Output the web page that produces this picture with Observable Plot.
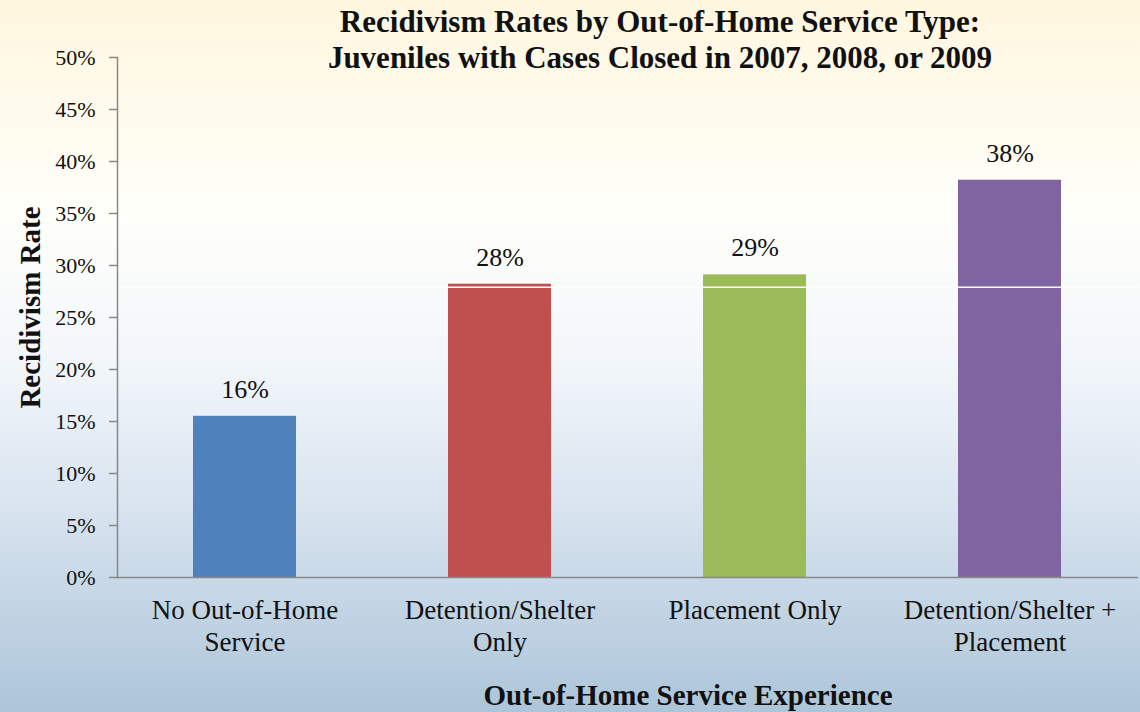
<!DOCTYPE html>
<html>
<head>
<meta charset="utf-8">
<script src="https://cdn.jsdelivr.net/npm/d3@7"></script>
<script src="https://cdn.jsdelivr.net/npm/@observablehq/plot@0.6"></script>
<style>
  html, body { margin: 0; padding: 0; }
  body {
    width: 1140px; height: 712px; overflow: hidden; position: relative;
    background: linear-gradient(to bottom, #FFF6DE 0%, #FFFFFA 30%, #F3F7FB 50%, #DAE5F0 70%, #ADC5D9 100%);
    font-family: "Liberation Serif", "DejaVu Serif", serif;
  }
  #title {
    position: absolute; left: 260px; width: 800px; top: 4px;
    text-align: center; font-weight: bold; font-size: 31px; line-height: 36px; color: #111;
  }
  #chart { position: absolute; left: 0; top: 0; }
</style>
</head>
<body>
<div id="chart"></div>
<div id="title">Recidivism Rates by Out-of-Home Service Type:<br>Juveniles with Cases Closed in 2007, 2008, or 2009</div>
<script>
const categories = ["No Out-of-Home Service", "Detention/Shelter Only", "Placement Only", "Detention/Shelter + Placement"];
const tickLabels = ["No Out-of-Home\nService", "Detention/Shelter\nOnly", "Placement Only", "Detention/Shelter +\nPlacement"];
const values = [15.5, 28.2, 29.1, 38.2];
const valueLabels = ["16%", "28%", "29%", "38%"];
const colors = ["#4F81BD", "#C0504D", "#9BBB59", "#8064A2"];
const artifactLine = [27.9];

const data = categories.map((c, i) => ({category: c, value: values[i], label: valueLabels[i], color: colors[i]}));
const labelOf = new Map(categories.map((c, i) => [c, tickLabels[i]]));

const chart = Plot.plot({
  width: 1140,
  height: 712,
  marginLeft: 117,
  marginRight: 2,
  marginTop: 57,
  marginBottom: 135,
  style: {background: "transparent", fontFamily: "'Liberation Serif', 'DejaVu Serif', serif", color: "#111"},
  x: {domain: categories, paddingInner: 0.596, paddingOuter: 0.298, label: null},
  y: {domain: [0, 50], label: null},
  marks: [
    Plot.barY(data, {x: "category", y: "value", fill: "color"}),
    Plot.ruleY(artifactLine, {stroke: "white", strokeWidth: 1.5}),
    Plot.ruleY([0], {stroke: "#888", strokeWidth: 1.5}),
    Plot.frame({anchor: "left", stroke: "#888", strokeWidth: 1.5}),
    Plot.axisY({
      ticks: d3.range(0, 51, 5), tickFormat: d => d + "%", tickSize: 8, tickPadding: 14,
      fontSize: 22, stroke: "#888", strokeWidth: 1.5, label: null
    }),
    Plot.axisX({
      tickSize: 0, tickPadding: 18, fontSize: 27, lineHeight: 1.2,
      tickFormat: d => labelOf.get(d), label: null
    }),
    Plot.text(data, {x: "category", y: "value", text: "label", dy: -27, fontSize: 26, fill: "#111"}),
    Plot.text(["Out-of-Home Service Experience"], {frameAnchor: "bottom", dy: 127, dx: 60, fontSize: 29, fontWeight: "bold", fill: "#111"}),
    Plot.text(["Recidivism Rate"], {frameAnchor: "left", textAnchor: "middle", dx: -87, dy: -10, rotate: -90, fontSize: 29, fontWeight: "bold", fill: "#111"})
  ]
});
document.getElementById("chart").appendChild(chart);
</script>
</body>
</html>
